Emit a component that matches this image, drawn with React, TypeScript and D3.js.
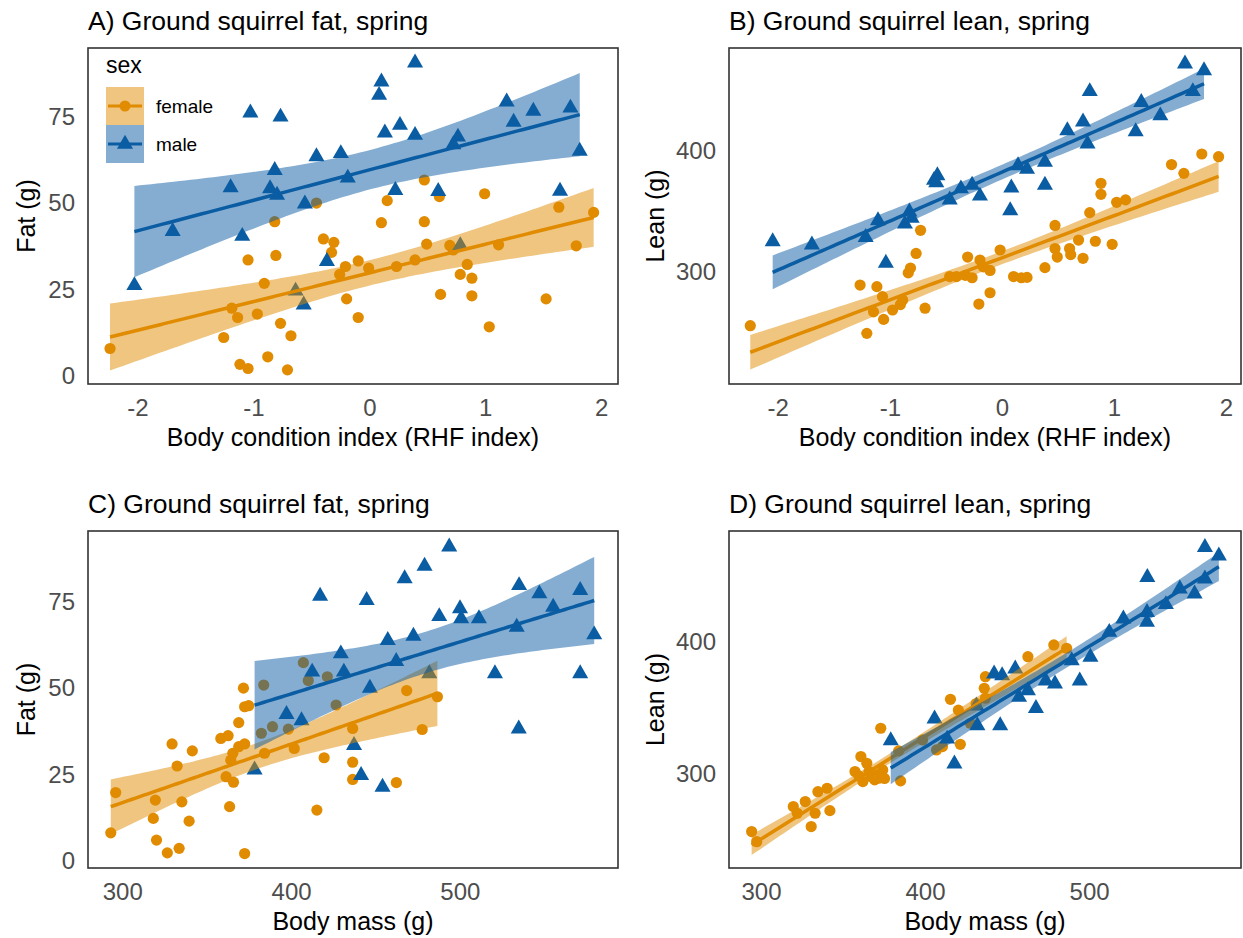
import React from 'react'
import * as d3 from 'd3'

const FEMALE = '#E08B00'
const MALE = '#0A5CA3'
const FONT = '"Liberation Sans", Arial, sans-serif'

// A) body condition index (RHF) vs fat (g)
const femaleBciFat = [
  [-2.24, 7.7], [-1.26, 10.9], [-1.19, 19.4], [-1.14, 16.7], [-1.12, 3.1], [-1.05, 1.9],
  [-1.05, 33.4], [-0.97, 17.7], [-0.91, 26.6], [-0.88, 5.3], [-0.82, 44.5], [-0.81, 34.7],
  [-0.77, 15], [-0.68, 11.4], [-0.71, 1.5], [-0.46, 49.9], [-0.4, 39.5], [-0.31, 38.5],
  [-0.33, 35.6], [-0.21, 31.5], [-0.26, 29.2], [-0.1, 33.1], [-0.2, 22.1], [-0.1, 16.7],
  [-0.01, 31], [0.15, 50.6], [0.1, 44.2], [0.23, 31.5], [0.39, 33.4], [0.47, 56.6],
  [0.47, 44.5], [0.49, 38], [0.6, 51.8], [0.61, 23.4], [0.69, 37.6], [0.72, 36.3],
  [0.78, 29.2], [0.84, 32.1], [0.88, 28.1], [0.88, 23], [0.99, 52.6], [1.03, 14],
  [1.11, 37.8], [1.52, 22.1], [1.63, 48.7], [1.78, 37.5], [1.93, 47.2],
]
const maleBciFat = [
  [-2.03, 26], [-1.7, 41.7], [-1.2, 54.4], [-1.1, 40.3], [-1.03, 76.1], [-0.77, 74.9],
  [-0.82, 59.4], [-0.86, 54.1], [-0.8, 52.2], [-0.56, 49.7], [-0.46, 63.4], [-0.25, 64.3],
  [-0.19, 57.2], [-0.37, 33], [-0.57, 20.4], [-0.64, 24.4], [0.1, 85.1], [0.08, 81.2],
  [0.13, 70.3], [0.26, 72.5], [0.39, 90.6], [0.39, 69.6], [0.22, 53.6], [0.59, 53.3],
  [0.76, 69.1], [0.72, 66.9], [0.78, 37.6], [1.18, 79.3], [1.24, 73.4], [1.41, 76.6],
  [1.73, 77.5], [1.81, 65], [1.64, 53.4],
]

// B) body condition index (RHF) vs lean (g)
const femaleBciLean = [
  [-2.25, 255.6], [-1.27, 289], [-1.21, 249.3], [-1.15, 267], [-1.12, 287.7], [-1.07, 279.5],
  [-1.06, 260.8], [-0.98, 268.5], [-0.91, 273], [-0.89, 276.7], [-0.84, 299], [-0.82, 303],
  [-0.77, 315], [-0.73, 334], [-0.69, 270], [-0.47, 296], [-0.41, 296], [-0.33, 297],
  [-0.31, 312], [-0.27, 295], [-0.2, 309.6], [-0.17, 304], [-0.11, 301], [-0.11, 282.7],
  [-0.21, 273.4], [-0.02, 317.8], [0.1, 296], [0.17, 295], [0.22, 295.3], [0.38, 303.3],
  [0.47, 338], [0.47, 319], [0.49, 312], [0.6, 319], [0.61, 314], [0.68, 326],
  [0.72, 311], [0.78, 348.5], [0.83, 325], [0.88, 372.6], [0.88, 363.6], [0.98, 322.5],
  [1.02, 357], [1.1, 359], [1.51, 388], [1.62, 380.8], [1.78, 396.7], [1.93, 394.5],
]
const maleBciLean = [
  [-2.05, 324.8], [-1.7, 322], [-1.22, 328.2], [-1.11, 342], [-1.04, 307], [-0.87, 339.2],
  [-0.83, 349.2], [-0.81, 344], [-0.61, 375.2], [-0.58, 379], [-0.59, 373.2], [-0.47, 359],
  [-0.37, 368.2], [-0.27, 371.2], [-0.2, 362.2], [0.08, 368.9], [0.07, 350.2], [0.14, 387.2],
  [0.22, 384.2], [0.38, 390], [0.38, 371.2], [0.58, 416], [0.72, 423.2], [0.78, 448.1],
  [0.76, 405], [1.19, 415.2], [1.24, 439.2], [1.41, 428.2], [1.63, 470.8], [1.8, 465.2],
  [1.7, 448.1],
]

// C) body mass (g) vs fat (g)
const femaleMassFat = [
  [292.9, 7.9], [295.8, 19.6], [318.1, 12.1], [319.3, 17.4], [320, 5.8], [326.4, 2.1],
  [329.2, 33.7], [332.2, 27.3], [333.4, 3.4], [335, 16.9], [339.3, 11.3], [341.2, 31.7],
  [358.1, 35.3], [362.4, 36.1], [361.2, 24.2], [363.3, 15.5], [365.6, 22.6], [365.2, 31],
  [368.7, 32.9], [372.2, 33.7], [368.7, 39.9], [371.5, 49.9], [372.2, 44.5], [374.6, 44.8],
  [372.2, 1.9], [364, 29], [382.1, 36.8], [383.5, 50.8], [384, 31], [388.7, 38.7],
  [398.1, 38], [401.6, 32.4], [407, 57.3], [409.9, 52.1], [415, 14.5], [419.3, 29.7],
  [421.2, 53.2], [426.4, 45], [436.2, 38.2], [436.2, 28.4], [436.2, 23.4], [462.1, 22.5],
  [468.2, 49.2], [477.4, 37.9], [486.4, 47.4],
]
const maleMassFat = [
  [378.1, 26.2], [416.9, 76.6], [444.5, 75.4], [467, 81.7], [478.8, 85.3], [493.4, 90.9],
  [534.8, 79.7], [546.8, 77.3], [555, 73.4], [571, 78.3], [579.3, 65.4], [571, 54.1],
  [534.6, 38.1], [520.5, 54.1], [533.4, 67.6], [511, 70.1], [500.5, 70.1], [499.8, 73],
  [487.5, 70.7], [472.2, 65], [457, 63.8], [462, 57.7], [429.2, 59.9], [431, 54.6],
  [412.2, 54.6], [446.4, 49.9], [397, 42.3], [405.9, 40.5], [437, 33.3], [441.2, 24.6],
  [453.9, 21.2], [481.6, 54.1],
]

// D) body mass (g) vs lean (g)
const femaleMassLean = [
  [294, 255.7], [297.1, 248], [319.4, 274.7], [321.8, 269.6], [326.7, 278.5], [330.3, 259.5],
  [332.7, 269.6], [334.4, 286], [340, 288.6], [341.7, 271.6], [357, 301.3], [360.6, 312.7],
  [364.2, 307.6], [361.8, 293.7], [366.7, 297.5], [370.3, 298.7], [372.7, 334.2], [373.9, 302.5],
  [384.8, 294.2], [383.6, 317], [398.2, 325.3], [406.7, 317.7], [410.3, 320.3], [421.2, 322],
  [415.2, 356.2], [420, 348], [427.3, 338], [430.9, 353], [436.5, 373.4], [435.8, 364.6],
  [436.5, 357], [462.4, 388.6], [478.2, 397.5], [486, 395], [359.4, 298], [369, 295],
  [365.5, 301.3], [371.5, 296.2], [375, 296],
]
const maleMassLean = [
  [378.8, 324.9], [405.5, 341.3], [417.6, 307.2], [413.2, 326.1], [431.6, 336.3], [431, 351.3],
  [445.5, 336.3], [441.8, 375.5], [446.7, 374.3], [454.7, 379.3], [457, 357.8], [462.4, 362.9],
  [467.3, 349.3], [473.3, 370.3], [478.9, 367.9], [494, 370.3], [489.1, 385.6], [500.5, 388.3],
  [512, 407.2], [520.6, 417.3], [535, 422.3], [535, 414.8], [546.5, 428.3], [555, 440.1],
  [535.2, 448.9], [570.3, 471.7], [578.8, 465.3], [570.3, 447.7], [564, 436.3],
]

const bciTicks = [-2, -1, 0, 1, 2]
const massTicks = [300, 400, 500]
const fatTicks = [0, 25, 50, 75]
const leanTicks = [300, 400]
const sexLevels = ['female', 'male']

const panels = [
  {
    key: 'A', title: 'A) Ground squirrel fat, spring', xLabel: 'Body condition index (RHF index)', yLabel: 'Fat (g)',
    female: femaleBciFat, male: maleBciFat, xTicks: bciTicks, yTicks: fatTicks,
    xDomain: [-2.43, 2.14], yDomain: [-2.6, 94.9],
    box: { x0: 88, x1: 618, y0: 48, y1: 384 }, yTitleX: 35, legend: true,
  },
  {
    key: 'B', title: 'B) Ground squirrel lean, spring', xLabel: 'Body condition index (RHF index)', yLabel: 'Lean (g)',
    female: femaleBciLean, male: maleBciLean, xTicks: bciTicks, yTicks: leanTicks,
    xDomain: [-2.44, 2.13], yDomain: [207.7, 483.8],
    box: { x0: 729, x1: 1241, y0: 48, y1: 384 }, yTitleX: 664, legend: false,
  },
  {
    key: 'C', title: 'C) Ground squirrel fat, spring', xLabel: 'Body mass (g)', yLabel: 'Fat (g)',
    female: femaleMassFat, male: maleMassFat, xTicks: massTicks, yTicks: fatTicks,
    xDomain: [279.4, 593.4], yDomain: [-2.3, 95.5],
    box: { x0: 88, x1: 618, y0: 531, y1: 868 }, yTitleX: 35, legend: false,
  },
  {
    key: 'D', title: 'D) Ground squirrel lean, spring', xLabel: 'Body mass (g)', yLabel: 'Lean (g)',
    female: femaleMassLean, male: maleMassLean, xTicks: massTicks, yTicks: leanTicks,
    xDomain: [280.2, 592.3], yDomain: [228, 484.1],
    box: { x0: 729, x1: 1241, y0: 531, y1: 868 }, yTitleX: 664, legend: false,
  },
]

// t quantile (0.975) approximation
function tQuantile(df) {
  const z = 1.959964
  return z + (z ** 3 + z) / (4 * df) + (5 * z ** 5 + 16 * z ** 3 + 3 * z) / (96 * df * df)
}

// linear model with 95% confidence band, like geom_smooth(method = 'lm')
function fitLm(pts) {
  const n = pts.length
  const mx = d3.mean(pts, d => d[0])
  const my = d3.mean(pts, d => d[1])
  const sxx = d3.sum(pts, d => (d[0] - mx) ** 2)
  const sxy = d3.sum(pts, d => (d[0] - mx) * (d[1] - my))
  const b = sxy / sxx
  const a = my - b * mx
  const sse = d3.sum(pts, d => (d[1] - a - b * d[0]) ** 2)
  const s = Math.sqrt(sse / (n - 2))
  const t = tQuantile(n - 2)
  const [lo, hi] = d3.extent(pts, d => d[0])
  return d3.range(80).map(i => {
    const x = lo + ((hi - lo) * i) / 79
    const fit = a + b * x
    const se = s * Math.sqrt(1 / n + (x - mx) ** 2 / sxx)
    return { x, fit, lo: fit - t * se, hi: fit + t * se }
  })
}

const Legend = ({ x, y, tri }) => {
  const size = 38
  return (
    <g transform={`translate(${x},${y})`} fontFamily={FONT}>
      <text x={0} y={-14} fontSize={23} fill="#000">sex</text>
      {sexLevels.map((s, i) => {
        const col = s === 'female' ? FEMALE : MALE
        const cy = i * size + size / 2
        return (
          <g key={s}>
            <rect x={0} y={i * size} width={size} height={size} fill={col} fillOpacity={0.5} />
            <line x1={2} x2={size - 2} y1={cy} y2={cy} stroke={col} strokeWidth={3} />
            {s === 'female'
              ? <circle cx={size / 2} cy={cy} r={5.5} fill={col} />
              : <path d={tri} transform={`translate(${size / 2},${cy})`} fill={col} />}
            <text x={size + 12} y={cy + 6.5} fontSize={19} fill="#000">{s}</text>
          </g>
        )
      })}
    </g>
  )
}

const Panel = ({ p }) => {
  const { box } = p
  const x = d3.scaleLinear().domain(p.xDomain).range([box.x0, box.x1])
  const y = d3.scaleLinear().domain(p.yDomain).range([box.y1, box.y0])
  const area = d3.area().x(d => x(d.x)).y0(d => y(d.lo)).y1(d => y(d.hi))
  const line = d3.line().x(d => x(d.x)).y(d => y(d.fit))
  const tri = d3.symbol(d3.symbolTriangle, 112)()
  const groups = [
    { name: 'female', pts: p.female, col: FEMALE },
    { name: 'male', pts: p.male, col: MALE },
  ]
  const clipId = `clip-${p.key}`
  const cy = (box.y0 + box.y1) / 2
  return (
    <g fontFamily={FONT}>
      <defs>
        <clipPath id={clipId}>
          <rect x={box.x0} y={box.y0} width={box.x1 - box.x0} height={box.y1 - box.y0} />
        </clipPath>
      </defs>
      <text x={box.x0} y={box.y0 - 18} fontSize={26.5} fill="#000">{p.title}</text>
      <g clipPath={`url(#${clipId})`}>
        {groups.map(g => (
          <g key={g.name}>
            {g.pts.map((d, i) =>
              g.name === 'female'
                ? <circle key={i} cx={x(d[0])} cy={y(d[1])} r={5.6} fill={g.col} />
                : <path key={i} d={tri} transform={`translate(${x(d[0])},${y(d[1])})`} fill={g.col} />
            )}
          </g>
        ))}
        {groups.map(g => {
          const fit = fitLm(g.pts)
          return (
            <g key={g.name}>
              <path d={area(fit)} fill={g.col} fillOpacity={0.5} />
              <path d={line(fit)} fill="none" stroke={g.col} strokeWidth={3.5} />
            </g>
          )
        })}
      </g>
      <rect x={box.x0} y={box.y0} width={box.x1 - box.x0} height={box.y1 - box.y0}
        fill="none" stroke="#333" strokeWidth={1.6} />
      {p.xTicks.map(t => (
        <text key={t} x={x(t)} y={box.y1 + 32} fontSize={24} fill="#4D4D4D" textAnchor="middle">
          {t < 0 ? `-${Math.abs(t)}` : t}
        </text>
      ))}
      {p.yTicks.map(t => (
        <text key={t} x={box.x0 - 13} y={y(t)} dy="0.36em" fontSize={24} fill="#4D4D4D" textAnchor="end">{t}</text>
      ))}
      <text x={(box.x0 + box.x1) / 2} y={box.y1 + 62} fontSize={25} fill="#000" textAnchor="middle">{p.xLabel}</text>
      <text transform={`translate(${p.yTitleX},${cy}) rotate(-90)`} fontSize={25} fill="#000" textAnchor="middle">{p.yLabel}</text>
      {p.legend && <Legend x={106} y={87} tri={tri} />}
    </g>
  )
}

export default function App() {
  return (
    <svg width={1243} height={938} style={{ display: 'block', position: 'absolute', left: 0, top: 0, background: '#fff' }}>
      <rect width={1243} height={938} fill="#fff" />
      {panels.map(p => <Panel key={p.key} p={p} />)}
    </svg>
  )
}
